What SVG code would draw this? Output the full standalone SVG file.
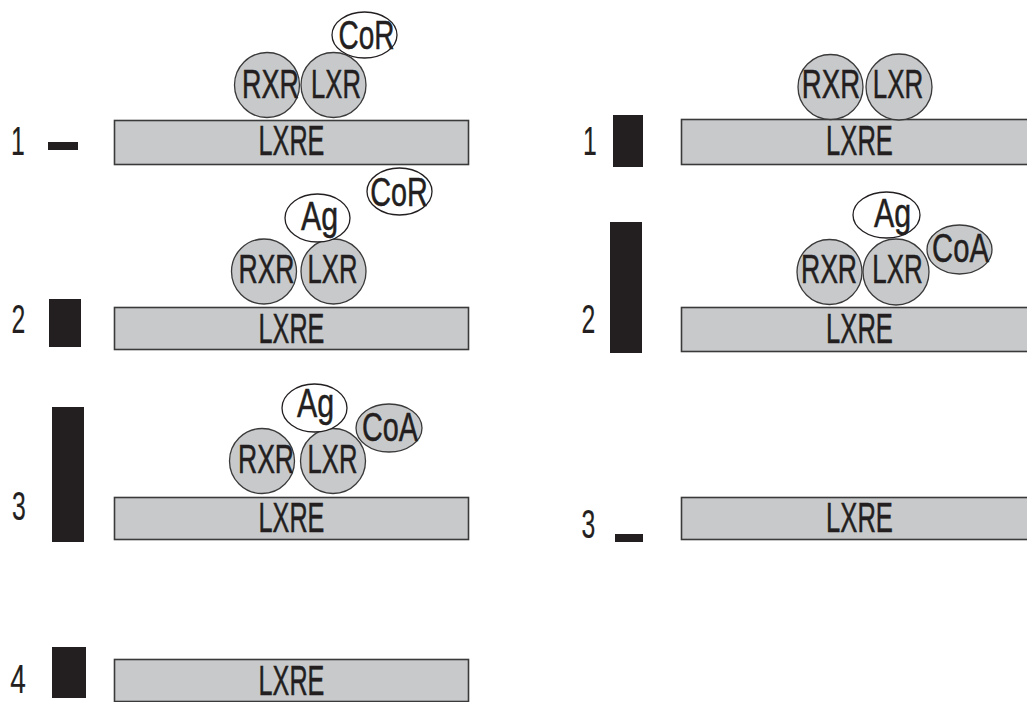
<svg xmlns="http://www.w3.org/2000/svg" width="1027" height="702" viewBox="0 0 1027 702">
<style>
.bg{fill:#ffffff}
.dna{fill:#c8c9cb;stroke:#3a3a3a;stroke-width:1.6}
.bar{fill:#231f20}
.prot{fill:#c8c9cb;stroke:#3a3a3a;stroke-width:1.3}
.lig{fill:#ffffff;stroke:#231f20;stroke-width:1.3}
text{font-family:"Liberation Sans",Arial,sans-serif;fill:#231f20;stroke:#231f20;stroke-width:0.5;text-anchor:middle}
.t{font-size:40px}
.big{font-size:42px}
.num{font-size:40px;stroke-width:0.2}
</style>
<rect class="bg" x="0" y="0" width="1027" height="702"/>

<!-- Left column -->
<g id="L1">
  <rect class="bar" x="48" y="142" width="30" height="8"/>
  <text class="num" transform="translate(18,155) scale(0.62,1)">1</text>
  <rect class="dna" x="114.5" y="120.5" width="354" height="44"/>
  <text class="big" transform="translate(291.5,155) scale(0.6,1)">LXRE</text>
  <circle class="prot" cx="267" cy="85" r="32.5"/>
  <text class="t" transform="translate(270.5,98) scale(0.675,1)">RXR</text>
  <circle class="prot" cx="333.5" cy="85" r="32.5"/>
  <text class="t" transform="translate(336,98) scale(0.64,1)">LXR</text>
  <ellipse class="lig" cx="364.5" cy="35" rx="32.5" ry="23"/>
  <text class="t" transform="translate(366.5,49) scale(0.7,1)">CoR</text>
</g>

<g id="L2">
  <rect class="bar" x="49" y="299" width="32" height="48"/>
  <text class="num" transform="translate(18.5,333) scale(0.62,1)">2</text>
  <rect class="dna" x="114.5" y="307.5" width="354" height="42"/>
  <text class="big" transform="translate(291.5,343) scale(0.6,1)">LXRE</text>
  <circle class="prot" cx="264" cy="271.5" r="32.5"/>
  <text class="t" transform="translate(266.5,283) scale(0.665,1)">RXR</text>
  <circle class="prot" cx="333.5" cy="271.5" r="32.5"/>
  <text class="t" transform="translate(332.5,283) scale(0.64,1)">LXR</text>
  <ellipse class="lig" cx="317.5" cy="218" rx="32.5" ry="24"/>
  <text class="t" transform="translate(319.5,230) scale(0.76,1)">Ag</text>
  <ellipse class="lig" cx="399.5" cy="191.5" rx="32.5" ry="23.5"/>
  <text class="t" transform="translate(399,206) scale(0.72,1)">CoR</text>
</g>

<g id="L3">
  <rect class="bar" x="52" y="407" width="32" height="135"/>
  <text class="num" transform="translate(19,520) scale(0.62,1)">3</text>
  <rect class="dna" x="114.5" y="497.5" width="354" height="42"/>
  <text class="big" transform="translate(291.5,532) scale(0.6,1)">LXRE</text>
  <circle class="prot" cx="262" cy="461" r="32.5"/>
  <text class="t" transform="translate(266,473) scale(0.665,1)">RXR</text>
  <circle class="prot" cx="333" cy="461" r="32.5"/>
  <text class="t" transform="translate(332.5,473) scale(0.64,1)">LXR</text>
  <ellipse class="lig" cx="314.5" cy="408" rx="32.5" ry="24"/>
  <text class="t" transform="translate(315.5,417) scale(0.76,1)">Ag</text>
  <ellipse class="prot" cx="389" cy="428" rx="33" ry="24"/>
  <text class="t" transform="translate(390,441) scale(0.72,1)">CoA</text>
</g>

<g id="L4">
  <rect class="bar" x="52" y="647" width="34" height="51"/>
  <text class="num" transform="translate(18,693) scale(0.7,1)">4</text>
  <rect class="dna" x="114.5" y="659.5" width="354" height="42"/>
  <text class="big" transform="translate(291.5,695) scale(0.6,1)">LXRE</text>
</g>

<!-- Right column -->
<g id="R1">
  <rect class="bar" x="613" y="115" width="30" height="52"/>
  <text class="num" transform="translate(590,155) scale(0.62,1)">1</text>
  <rect class="dna" x="681.5" y="119.5" width="360" height="45"/>
  <text class="big" transform="translate(859.5,155) scale(0.61,1)">LXRE</text>
  <circle class="prot" cx="830.5" cy="87" r="32.5"/>
  <text class="t" transform="translate(831,98) scale(0.69,1)">RXR</text>
  <circle class="prot" cx="899" cy="87" r="33"/>
  <text class="t" transform="translate(898,98) scale(0.65,1)">LXR</text>
</g>

<g id="R2">
  <rect class="bar" x="610" y="222" width="32" height="131"/>
  <text class="num" transform="translate(588.5,333) scale(0.62,1)">2</text>
  <rect class="dna" x="681.5" y="307.5" width="360" height="44"/>
  <text class="big" transform="translate(859.5,343) scale(0.61,1)">LXRE</text>
  <circle class="prot" cx="829.5" cy="272" r="32.5"/>
  <text class="t" transform="translate(829,283) scale(0.665,1)">RXR</text>
  <circle class="prot" cx="896" cy="272" r="33"/>
  <text class="t" transform="translate(897.5,283) scale(0.65,1)">LXR</text>
  <ellipse class="lig" cx="886.5" cy="215" rx="33.5" ry="23"/>
  <text class="t" transform="translate(892.5,227) scale(0.76,1)">Ag</text>
  <ellipse class="prot" cx="959.5" cy="249.5" rx="32.5" ry="24.5"/>
  <text class="t" transform="translate(960.5,262) scale(0.73,1)">CoA</text>
</g>

<g id="R3">
  <rect class="bar" x="615" y="534" width="28" height="8"/>
  <text class="num" transform="translate(588.5,538) scale(0.62,1)">3</text>
  <rect class="dna" x="681.5" y="497.5" width="360" height="42"/>
  <text class="big" transform="translate(859.5,532) scale(0.61,1)">LXRE</text>
</g>
</svg>
